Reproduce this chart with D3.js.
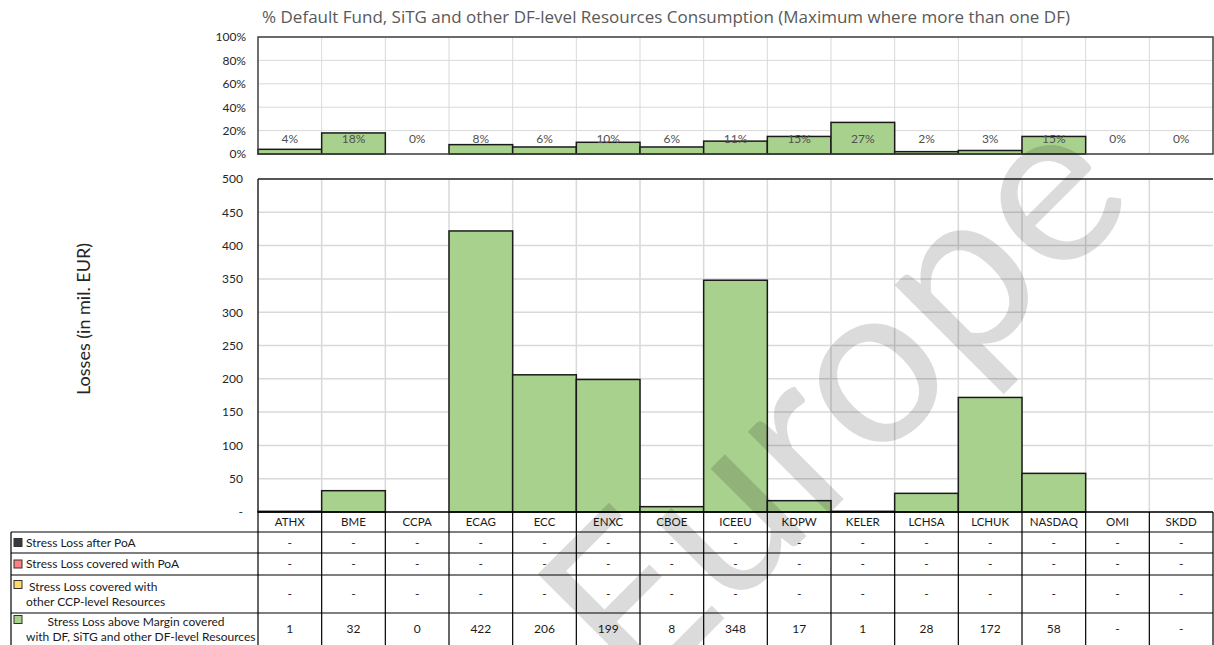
<!DOCTYPE html>
<html>
<head>
<meta charset="utf-8">
<script src="https://cdn.jsdelivr.net/npm/d3@7"></script>
<style>
  body { margin: 0; background: #fff; }
  svg { display: block; font-family: Lato, "Open Sans", sans-serif; }
</style>
</head>
<body>
<svg id="chart" width="1214" height="645"></svg>
<script>
// CCPs
var cats = ["ATHX", "BME", "CCPA", "ECAG", "ECC", "ENXC", "CBOE", "ICEEU", "KDPW", "KELER", "LCHSA", "LCHUK", "NASDAQ", "OMI", "SKDD"];
// % DF consumption (top panel)
var dfPct = [4, 18, 0, 8, 6, 10, 6, 11, 15, 27, 2, 3, 15, 0, 0];
// losses in mil. EUR, null = "-"
var lossAfterPoA = [null, null, null, null, null, null, null, null, null, null, null, null, null, null, null];
var lossCoveredPoA = [null, null, null, null, null, null, null, null, null, null, null, null, null, null, null];
var lossOtherCCP = [null, null, null, null, null, null, null, null, null, null, null, null, null, null, null];
var lossDF = [1, 32, 0, 422, 206, 199, 8, 348, 17, 1, 28, 172, 58, null, null];
var pctTicks = [0, 20, 40, 60, 80, 100];
var lossTicks = [0, 50, 100, 150, 200, 250, 300, 350, 400, 450, 500];

var rows = [
    { label: ["Stress Loss after PoA"], color: "#3a3a3a", values: lossAfterPoA },
    { label: ["Stress Loss covered with PoA"], color: "#ff7f7f", values: lossCoveredPoA },
    { label: [" Stress Loss covered with", "other CCP-level Resources"], color: "#ffd966", values: lossOtherCCP },
    { label: ["       Stress Loss above Margin covered", "with DF, SiTG and other DF-level Resources"], color: "#a9d18e", values: lossDF }
];

var green = "#a9d18e";
var svg = d3.select("#chart");

var x = d3.scaleBand().domain(cats).range([258, 1213]).padding(0);

// ---------- top panel ----------
var yP = d3.scaleLinear().domain([0, 100]).range([154, 37]);

svg.append("text")
    .attr("x", 666).attr("y", 23)
    .attr("text-anchor", "middle")
    .style("font-family", "'Open Sans', sans-serif")
    .style("font-size", "17px").style("fill", "#595959")
    .text("% Default Fund, SiTG and other  DF-level Resources Consumption (Maximum where more than one DF)");

var topG = svg.append("g");
topG.selectAll(".hgrid").data(pctTicks).enter().append("line")
    .attr("x1", 258).attr("x2", 1213)
    .attr("y1", d => yP(d)).attr("y2", d => yP(d))
    .style("stroke", "#d9d9d9").style("stroke-width", 1);
topG.selectAll(".vgrid").data(cats.slice(1)).enter().append("line")
    .attr("x1", d => x(d)).attr("x2", d => x(d))
    .attr("y1", yP(100)).attr("y2", yP(0))
    .style("stroke", "#d9d9d9").style("stroke-width", 1);

topG.selectAll(".bar").data(cats.filter((c, i) => lossDF[i] != null)).enter().append("rect")
    .attr("x", d => x(d))
    .attr("width", x.bandwidth())
    .attr("y", d => yP(dfPct[cats.indexOf(d)]))
    .attr("height", d => yP(0) - yP(dfPct[cats.indexOf(d)]))
    .style("fill", green).style("stroke", "#1a1a1a").style("stroke-width", 1.5);

topG.selectAll(".plab").data(cats).enter().append("text")
    .attr("x", d => x(d) + x.bandwidth() / 2)
    .attr("y", yP(12.8))
    .attr("dy", "0.35em")
    .attr("text-anchor", "middle")
    .style("font-size", "12px").style("fill", "#505050")
    .text((d, i) => dfPct[i] + "%");

topG.append("rect")
    .attr("x", 258).attr("y", yP(100))
    .attr("width", 1213 - 258).attr("height", yP(0) - yP(100))
    .style("fill", "none").style("stroke", "#404040").style("stroke-width", 1.5);

var axP = d3.axisLeft(yP).tickValues(pctTicks).tickSize(0).tickPadding(12).tickFormat(d => d + "%");
svg.append("g").attr("transform", "translate(258,0)").call(axP)
    .call(g => g.select(".domain").remove())
    .selectAll("text").style("font-size", "12px").style("fill", "#262626").style("font-family", "Lato, sans-serif");

// ---------- main panel ----------
var y = d3.scaleLinear().domain([0, 500]).range([512, 179]);

var mainG = svg.append("g");
mainG.selectAll(".hgrid").data(lossTicks).enter().append("line")
    .attr("x1", 258).attr("x2", 1213)
    .attr("y1", d => y(d)).attr("y2", d => y(d))
    .style("stroke", "#d9d9d9").style("stroke-width", 1.5);
mainG.selectAll(".vgrid").data(cats.slice(1)).enter().append("line")
    .attr("x1", d => x(d)).attr("x2", d => x(d))
    .attr("y1", y(500)).attr("y2", y(0))
    .style("stroke", "#d9d9d9").style("stroke-width", 1.5);

mainG.selectAll(".bar").data(cats.filter((c, i) => lossDF[i] != null)).enter().append("rect")
    .attr("x", d => x(d))
    .attr("width", x.bandwidth())
    .attr("y", d => y(lossDF[cats.indexOf(d)]))
    .attr("height", d => y(0) - y(lossDF[cats.indexOf(d)]))
    .style("fill", green).style("stroke", "#1a1a1a").style("stroke-width", 1.5);

mainG.append("line")
    .attr("x1", 258).attr("x2", 258).attr("y1", y(500)).attr("y2", y(0))
    .style("stroke", "#262626").style("stroke-width", 1.5);
mainG.append("line")
    .attr("x1", 258).attr("x2", 1213).attr("y1", y(500)).attr("y2", y(500))
    .style("stroke", "#262626").style("stroke-width", 1.5);

var ax = d3.axisLeft(y).tickValues(lossTicks).tickSize(0).tickPadding(15).tickFormat(d => d == 0 ? "-" : d);
svg.append("g").attr("transform", "translate(258,0)").call(ax)
    .call(g => g.select(".domain").remove())
    .selectAll("text").style("font-size", "12px").style("fill", "#262626").style("font-family", "Lato, sans-serif");

svg.append("text")
    .attr("transform", "translate(90,319) rotate(-90)")
    .attr("text-anchor", "middle")
    .style("font-size", "18px").style("fill", "#262626")
    .text("Losses (in mil. EUR)");

// ---------- data table ----------
var rowY = [512, 532, 553, 575, 613, 645];
var tbl = svg.append("g").style("stroke", "#000");

// category header row
tbl.selectAll(".cat").data(cats).enter().append("text")
    .attr("x", d => x(d) + x.bandwidth() / 2)
    .attr("y", (rowY[0] + rowY[1]) / 2)
    .attr("dy", "0.35em")
    .attr("text-anchor", "middle")
    .style("stroke", "none").style("font-size", "11.5px").style("fill", "#1a1a1a")
    .text(d => d);

rows.forEach(function (r, ri) {
    var y0 = rowY[ri + 1], y1 = rowY[ri + 2];
    var cy = (y0 + y1) / 2;
    tbl.selectAll(".v" + ri).data(cats).enter().append("text")
        .attr("x", d => x(d) + x.bandwidth() / 2)
        .attr("y", cy)
        .attr("dy", "0.35em")
        .attr("text-anchor", "middle")
        .style("stroke", "none").style("font-size", "12px").style("fill", "#1a1a1a")
        .text((d, i) => r.values[i] == null ? "-" : r.values[i]);

    var lh = 15;
    var ty = cy - (r.label.length - 1) * lh / 2;
    tbl.append("rect")
        .attr("x", 14).attr("y", ty - (r.label.length > 1 ? 6 : 4))
        .attr("width", 8).attr("height", 8)
        .style("fill", r.color).style("stroke", "#333").style("stroke-width", 1);
    var t = tbl.append("text")
        .attr("x", 26).attr("y", ty).attr("dy", "0.35em")
        .style("stroke", "none").style("font-size", "12px").style("fill", "#1a1a1a")
        .style("white-space", "pre")
        .attr("xml:space", "preserve");
    r.label.forEach(function (s, k) {
        t.append("tspan").attr("x", 26).attr("y", ty + k * lh).attr("dy", "0.35em").text(s);
    });
});

// horizontal rules
rowY.slice(0, 5).forEach(function (yy, k) {
    tbl.append("line")
        .attr("x1", k == 0 ? 258 : 11).attr("x2", 1213)
        .attr("y1", yy).attr("y2", yy)
        .style("stroke-width", k == 0 ? 1.5 : 1.2);
});
// vertical rules
cats.forEach(function (c) {
    tbl.append("line")
        .attr("x1", x(c)).attr("x2", x(c))
        .attr("y1", rowY[0]).attr("y2", 645)
        .style("stroke-width", 1.2);
});
tbl.append("line").attr("x1", 1213).attr("x2", 1213).attr("y1", rowY[0]).attr("y2", 645).style("stroke-width", 1.2);
tbl.append("line").attr("x1", 11).attr("x2", 11).attr("y1", rowY[1]).attr("y2", 645).style("stroke-width", 1.2);

// ---------- watermark ----------
svg.append("text")
    .attr("transform", "translate(849,413) rotate(-45)")
    .attr("text-anchor", "middle")
    .attr("dy", "0.25em")
    .style("font-size", "228px")
    .style("font-family", "Lato, sans-serif")
    .style("fill", "#000").style("fill-opacity", 0.14)
    .text("Europe");
</script>
</body>
</html>
